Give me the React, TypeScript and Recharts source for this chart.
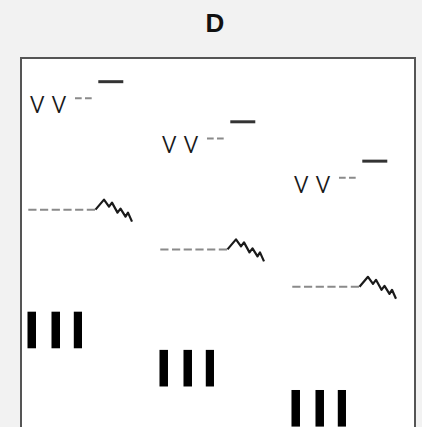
import React from 'react';
import { ScatterChart, Scatter, XAxis, YAxis, ReferenceArea } from 'recharts';

// ---- data ----
const title = 'D';
const groups = ['first', 'second', 'third'];
const groupX = [0, 1, 2];
const vvRow = [87.7, 77.2, 66.9];
const dashRow = [60.3, 49.9, 40.1];
const barRow = [28.8, 18.8, 8.3];
const vLetter = 'v';

const vvData = groups.map((g, i) => ({ group: g, x: groupX[i], y: vvRow[i] }));
const dashData = groups.map((g, i) => ({ group: g, x: groupX[i], y: dashRow[i] }));
const barData = groups.map((g, i) => ({ group: g, x: groupX[i], y: barRow[i] }));

const FONT = '"Liberation Sans", Arial, Helvetica, sans-serif';
const VFONT = 'Roboto, "Liberation Sans", Arial, sans-serif';
const OFFSET = 59; // distance from band centre to glyph left edge

const VVGlyph = (props: any) => {
  const { cx, cy } = props;
  if (cx == null || cy == null) return null;
  const L = cx - OFFSET;
  return (
    <g>
      <text x={L + 1.4} y={cy + 8.4} fontFamily={VFONT} fontWeight={300} fontSize={32} fill="#1a1a1a">{vLetter}</text>
      <text x={L + 23.2} y={cy + 8.4} fontFamily={VFONT} fontWeight={300} fontSize={32} fill="#1a1a1a">{vLetter}</text>
      <line x1={L + 47} x2={L + 65.5} y1={cy - 6.7} y2={cy - 6.7} stroke="#8a8a8a" strokeWidth={2} strokeDasharray="6.7 3.3" />
      <line x1={L + 70.3} x2={L + 95.3} y1={cy - 23.3} y2={cy - 23.3} stroke="#333" strokeWidth={3} />
    </g>
  );
};

const DashGlyph = (props: any) => {
  const { cx, cy } = props;
  if (cx == null || cy == null) return null;
  const L = cx - OFFSET;
  const zig = [
    [67.5, 0], [76, -10], [81, -3], [84, -7], [89.5, 3],
    [92.5, -1], [97.5, 7], [100, 3], [104, 12],
  ].map(([dx, dy]) => `${L + dx},${cy + dy}`).join(' ');
  return (
    <g>
      <line x1={L + 0.3} x2={L + 67} y1={cy} y2={cy} stroke="#8a8a8a" strokeWidth={2} strokeDasharray="8.2 3.5" />
      <polyline points={zig} fill="none" stroke="#1a1a1a" strokeWidth={2.2} strokeLinejoin="round" />
    </g>
  );
};

const BarGlyph = (props: any) => {
  const { cx, cy } = props;
  if (cx == null || cy == null) return null;
  const L = cx - OFFSET;
  return (
    <g fill="#000">
      <rect x={L - 0.5} y={cy - 18.3} width={8.5} height={36.6} />
      <rect x={L + 23.5} y={cy - 18.3} width={8.5} height={36.6} />
      <rect x={L + 45.8} y={cy - 18.3} width={8.2} height={36.6} />
    </g>
  );
};

export default function App() {
  return (
    <div style={{ position: 'fixed', left: 0, top: 0, width: 422, height: 427, background: '#f2f2f2', overflow: 'hidden' }}>
      <div style={{ position: 'absolute', left: 4, top: 10, width: 422, textAlign: 'center', fontFamily: FONT, fontWeight: 'bold', fontSize: 26, lineHeight: '26px', color: '#111' }}>
        {title}
      </div>
      <div style={{ position: 'absolute', left: 0, top: 0 }}>
        <ScatterChart width={422} height={440} margin={{ top: 58, right: 7, bottom: 0, left: 21 }}>
          <XAxis type="number" dataKey="x" domain={[-0.5, 2.485]} hide />
          <YAxis type="number" dataKey="y" domain={[0, 100]} hide />
          <ReferenceArea x1={-0.5} x2={2.485} y1={0} y2={100} fill="#ffffff" fillOpacity={1} stroke="#555" strokeWidth={2} />
          <Scatter data={vvData} dataKey="y" shape={VVGlyph} isAnimationActive={false} />
          <Scatter data={dashData} dataKey="y" shape={DashGlyph} isAnimationActive={false} />
          <Scatter data={barData} dataKey="y" shape={BarGlyph} isAnimationActive={false} />
        </ScatterChart>
      </div>
    </div>
  );
}
